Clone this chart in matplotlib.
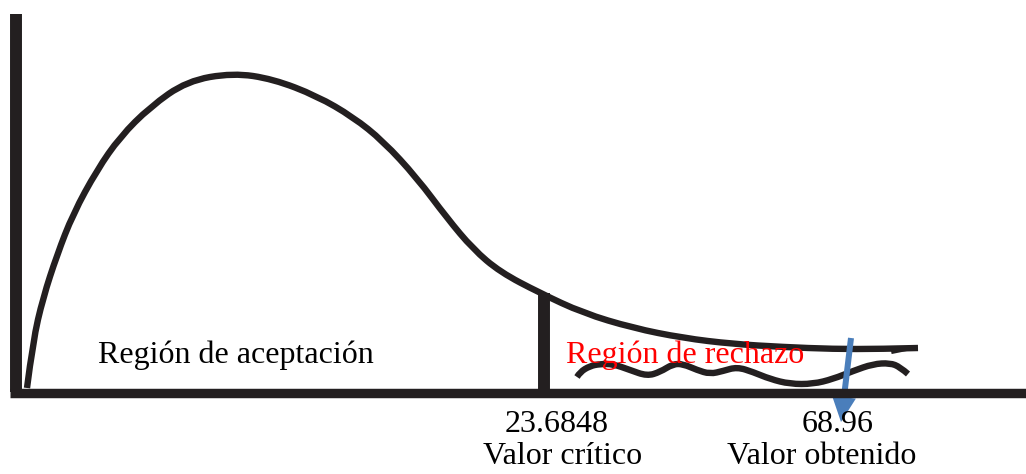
import numpy as np
import matplotlib.pyplot as plt
from matplotlib.path import Path
from matplotlib.patches import PathPatch

ink = '#231f20'

# curve drawn by hand (pixel-like coordinates, y grows downward)
curve_x = [27, 33, 43, 57, 73, 97, 120, 150, 187, 233, 273, 317, 353, 383, 417, 447,
           473, 500, 540, 583, 633, 683, 733, 783, 833, 880, 918]
curve_y = [388, 341, 298, 255, 214, 170, 137, 107, 81, 73, 79, 96, 117, 141, 178, 218,
           249, 272, 293, 313, 328, 338, 344, 347, 349, 349, 348]

# wavy scribble in the rejection region
wave_x = [577, 580, 590, 600, 613, 630, 647, 660, 673, 683, 697, 710, 723, 737, 753,
          770, 790, 813, 833, 853, 873, 890, 900, 908]
wave_y = [377, 372, 366, 364, 364, 370, 376, 372, 364, 364, 370, 374, 371, 367, 372,
          379, 384, 384, 379, 371, 364, 363, 367, 374]

critico = 23.6848
obtenido = 68.96
x_critico = 544


def smooth_path(xs, ys):
    # quadratic bezier through midpoints, points act as control points
    pts = list(zip(xs, ys))
    verts = [pts[0]]
    codes = [Path.MOVETO]
    n = len(pts)
    for i in range(1, n - 1):
        if i < n - 2:
            end = ((pts[i][0] + pts[i + 1][0]) / 2, (pts[i][1] + pts[i + 1][1]) / 2)
        else:
            end = pts[-1]
        verts += [pts[i], end]
        codes += [Path.CURVE3, Path.CURVE3]
    return Path(verts, codes)


fig = plt.figure(figsize=(10.26, 4.74), dpi=100)
ax = fig.add_axes([0, 0, 1, 1])
ax.set_xlim(0, 1026)
ax.set_ylim(474, 0)
ax.axis('off')

# axes
ax.plot([16, 16], [14, 392], color=ink, lw=8.6, solid_capstyle='butt')
ax.plot([10, 1026], [392.5, 392.5], color=ink, lw=6.8, solid_capstyle='butt')

ax.add_patch(PathPatch(smooth_path(curve_x, curve_y), fill=False, edgecolor=ink, lw=4.6,
                       capstyle='butt', joinstyle='round'))
ax.plot([908, 893], [349, 352], color=ink, lw=2.5)
ax.add_patch(PathPatch(smooth_path(wave_x, wave_y), fill=False, edgecolor=ink, lw=4.6,
                       capstyle='butt', joinstyle='round'))

# critical value line
ax.plot([x_critico, x_critico], [293, 392], color=ink, lw=8.6, solid_capstyle='butt')

# arrow to the obtained value
ax.arrow(851, 338, -10, 84, width=6, head_width=24, head_length=25,
         length_includes_head=True, color='#4a7ebb', lw=0)

serif = ['Liberation Serif', 'DejaVu Serif']
ax.text(98, 355, 'Región de aceptación', fontsize=23, family=serif, va='center', ha='left')
ax.text(566, 355, 'Región de rechazo', fontsize=23, family=serif, va='center', ha='left', color='red')
ax.text(557, 424, '%.4f' % critico, fontsize=23, family=serif, va='center', ha='center')
ax.text(563, 457, 'Valor crítico', fontsize=23, family=serif, va='center', ha='center')
ax.text(838, 424, '%.2f' % obtenido, fontsize=23, family=serif, va='center', ha='center')
ax.text(822, 457, 'Valor obtenido', fontsize=23, family=serif, va='center', ha='center')

fig.savefig('out.png', dpi=100)
